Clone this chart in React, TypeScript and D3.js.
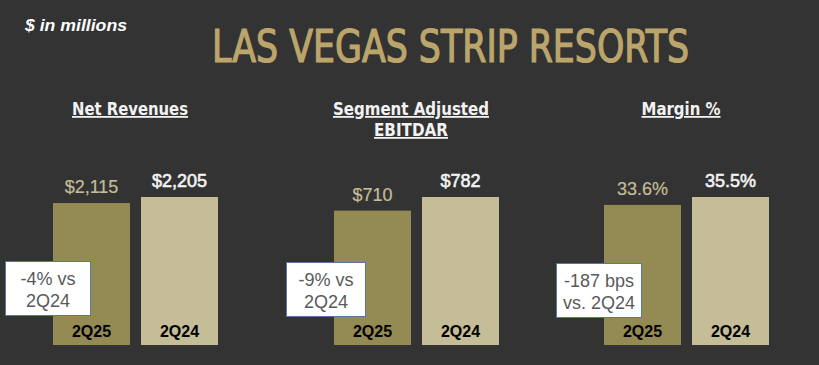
import React from "react";
import * as d3 from "d3";

const categories = ["2Q25", "2Q24"];
const panels = ["Net Revenues", "Segment Adjusted EBITDAR", "Margin %"];
const headerLines = [["Net Revenues"], ["Segment Adjusted", "EBITDAR"], ["Margin %"]];
const headerWidths = [[116], [156, 74], [79]];
const netRevenues = [2115, 2205];
const ebitdar = [710, 782];
const marginPct = [33.6, 35.5];
const changeNotes = [["-4% vs", "2Q24"], ["-9% vs", "2Q24"], ["-187 bps", "vs. 2Q24"]];
const noteWidths = [85, 79, 85];

const W = 819;
const H = 365;
const BG = "#333333";
const GOLD = "#bca56a";
const DARK_BAR = "#948a54";
const LIGHT_BAR = "#c4bd97";

const series = [netRevenues, ebitdar, marginPct];
const fmtDollar = (v: number) => "$" + d3.format(",")(v);
const fmtPct = (v: number) => d3.format(".1f")(v) + "%";
const formats = [fmtDollar, fmtDollar, fmtPct];

const narrow = "'Liberation Sans Narrow', 'DejaVu Sans Condensed', 'Liberation Sans', sans-serif";
const sans = "'Liberation Sans', Arial, sans-serif";

export default function App() {
  // panel left edges
  const panelX = d3.scaleOrdinal<string, number>().domain(panels).range([53, 334, 604]);
  const x = d3.scaleBand<string>().domain(categories).range([0, 165]).paddingInner(0.125).paddingOuter(0);
  const baseY = 345;
  const topY = 197;

  return (
    <svg width={W} height={H} style={{ position: "absolute", left: 0, top: 0, display: "block" }}>
      <rect width={W} height={H} fill={BG} />
      <text x={25} y={31} fill="#ffffff" fontFamily={sans} fontStyle="italic" fontWeight="bold" fontSize={17}
        textLength={102} lengthAdjust="spacingAndGlyphs">$ in millions</text>
      <text x={212} y={62} fill={GOLD} stroke={GOLD} strokeWidth={1.2} fontFamily={narrow} fontSize={44}
        textLength={477} lengthAdjust="spacingAndGlyphs">LAS VEGAS STRIP RESORTS</text>

      {panels.map((p, i) => {
        const left = panelX(p);
        const values = series[i];
        const y = d3.scaleLinear().domain([0, d3.max(values) as number]).range([baseY, topY]);
        const noteW = noteWidths[i];
        const noteX = left - 48;
        const noteY = 261 + i;
        return (
          <g key={p}>
            {headerLines[i].map((line, j) => (
              <text key={j} x={left + 77} y={115 + j * 21} textAnchor="middle" fill="#f2f2f2"
                fontFamily={narrow} fontWeight="bold" fontSize={18} textDecoration="underline"
                textLength={headerWidths[i][j]} lengthAdjust="spacingAndGlyphs">{line}</text>
            ))}
            {categories.map((c, k) => {
              const bx = left + (x(c) as number);
              const bw = x.bandwidth();
              const v = values[k];
              const col = k === 0 ? LIGHT_BAR : "#f2f2f2";
              return (
                <g key={c}>
                  <rect x={bx} y={y(v)} width={bw} height={baseY - y(v)} fill={k === 0 ? DARK_BAR : LIGHT_BAR} />
                  <text x={bx + bw / 2} y={y(v) - 10} textAnchor="middle" fontFamily={sans} fontSize={18}
                    fill={col} stroke={col} strokeWidth={k === 0 ? 0.2 : 0.6}>{formats[i](v)}</text>
                  <text x={bx + bw / 2} y={337} textAnchor="middle" fontFamily={sans} fontSize={16}
                    fontWeight="bold" fill="#000000">{c}</text>
                </g>
              );
            })}
            <rect x={noteX + 0.5} y={noteY + 0.5} width={noteW} height={54} fill="#ffffff" stroke="#5a76a0" strokeWidth={1} />
            {changeNotes[i].map((t, j) => (
              <text key={j} x={noteX + noteW / 2 + 0.5} y={noteY + 24 + j * 22} textAnchor="middle"
                fontFamily={sans} fontSize={18} fill="#595959">{t}</text>
            ))}
          </g>
        );
      })}
    </svg>
  );
}
